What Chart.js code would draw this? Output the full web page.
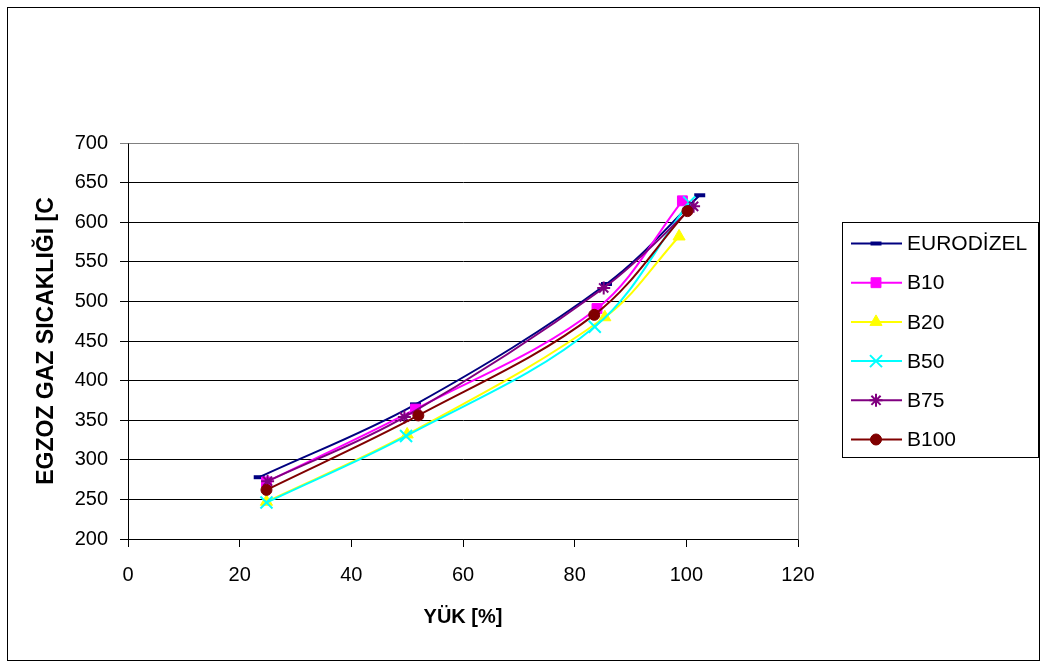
<!DOCTYPE html>
<html>
<head>
<meta charset="utf-8">
<script src="https://cdn.jsdelivr.net/npm/chart.js@4.4.1/dist/chart.umd.min.js"></script>
<style>
  body { margin:0; background:#fff; }
  #wrap { position:relative; width:1045px; height:666px; }
</style>
</head>
<body>
<div id="wrap"><canvas id="chart" width="1045" height="666"></canvas></div>
<script>
/* =========================
   DATA
========================= */
const seriesNames = ["EURODİZEL","B10","B20","B50","B75","B100"];

const eurodizelX = [23.5, 51.5, 85.7, 102.4];
const eurodizelY = [278, 370, 522, 634];
const b10X = [24.8, 51.5, 84.0, 99.3];
const b10Y = [272, 364, 491, 627];
const b20X = [24.8, 50.0, 85.4, 98.7];
const b20Y = [247, 332, 480, 582];
const b50X = [24.8, 49.8, 83.6, 100.5];
const b50Y = [246, 330, 468, 625];
const b75X = [25.0, 49.5, 85.2, 101.3];
const b75Y = [273, 354, 517, 620];
const b100X = [24.8, 52.0, 83.5, 100.2];
const b100Y = [262, 356, 483, 614];

const xTicks = [0, 20, 40, 60, 80, 100, 120];
const yTicks = [200, 250, 300, 350, 400, 450, 500, 550, 600, 650, 700];

const FONT = "'Liberation Sans', Arial, sans-serif";

/* =========================
   STYLES
========================= */
const styles = [
  { color:"#000080", pointStyle:"line",     radius:5.5, bw:4 },
  { color:"#FF00FF", pointStyle:"rect",     radius:7,   bw:1 },
  { color:"#FFFF00", pointStyle:"triangle", radius:7,   bw:1 },
  { color:"#00FFFF", pointStyle:"crossRot", radius:8.5, bw:2 },
  { color:"#800080", pointStyle:"star",     radius:6.5, bw:2 },
  { color:"#800000", pointStyle:"circle",   radius:5.5, bw:1 }
];

function toPoints(xs, ys){
  return xs.map((x,i)=>({ x:x, y:ys[i] }));
}

const allX = [eurodizelX, b10X, b20X, b50X, b75X, b100X];
const allY = [eurodizelY, b10Y, b20Y, b50Y, b75Y, b100Y];

const datasets = seriesNames.map((name, i)=>({
  label: name,
  data: toPoints(allX[i], allY[i]),
  showLine: true,
  tension: 0.35,
  borderColor: styles[i].color,
  backgroundColor: styles[i].color,
  borderWidth: 2,
  pointStyle: styles[i].pointStyle,
  pointRadius: styles[i].radius,
  pointBorderWidth: styles[i].bw,
  pointBackgroundColor: styles[i].color,
  pointBorderColor: styles[i].color,
  order: seriesNames.length - i
}));

/* =========================
   FRAME + LEGEND PLUGIN
========================= */
const framePlugin = {
  id: "frame",
  beforeDraw(chart){
    const ctx = chart.ctx;
    ctx.save();
    ctx.fillStyle = "#fff";
    ctx.fillRect(0, 0, chart.width, chart.height);
    ctx.strokeStyle = "#000";
    ctx.lineWidth = 1;
    ctx.strokeRect(7.5, 7.5, 1032, 653);
    ctx.restore();
  },
  beforeDatasetsDraw(chart){
    const a = chart.chartArea;
    const ctx = chart.ctx;
    ctx.save();
    ctx.strokeStyle = "#808080";
    ctx.lineWidth = 1;
    ctx.beginPath();
    ctx.moveTo(Math.round(a.left) + 0.5, Math.round(a.top) + 0.5);
    ctx.lineTo(Math.round(a.right) + 0.5, Math.round(a.top) + 0.5);
    ctx.lineTo(Math.round(a.right) + 0.5, Math.round(a.bottom) + 0.5);
    ctx.stroke();
    ctx.restore();
  },
  afterDraw(chart){
    const ctx = chart.ctx;
    ctx.save();
    ctx.strokeStyle = "#000";
    ctx.lineWidth = 1;
    ctx.strokeRect(842.5, 222.5, 196, 235);
    ctx.font = "21px " + FONT;
    ctx.textBaseline = "middle";
    ctx.fillStyle = "#000";
    datasets.forEach((ds, i)=>{
      const y = 243.5 + i * 39.2;
      ctx.strokeStyle = ds.borderColor;
      ctx.lineWidth = 2;
      ctx.beginPath();
      ctx.moveTo(851, y);
      ctx.lineTo(902, y);
      ctx.stroke();
      ctx.fillStyle = ds.borderColor;
      ctx.strokeStyle = ds.borderColor;
      ctx.lineWidth = ds.pointBorderWidth;
      Chart.helpers.drawPoint(ctx, {
        pointStyle: ds.pointStyle,
        radius: ds.pointRadius,
        rotation: 0,
        borderWidth: ds.pointBorderWidth
      }, 876, y);
      ctx.fillStyle = "#000";
      ctx.fillText(ds.label, 907, y + 1);
    });
    ctx.restore();
  }
};

/* =========================
   CHART
========================= */
new Chart(document.getElementById("chart"), {
  type: "scatter",
  data: { datasets },
  plugins: [framePlugin],
  options: {
    responsive: false,
    animation: false,
    events: [],
    layout: { padding: { left: 27, top: 143, right: 247, bottom: 30 } },
    plugins: {
      legend: { display: false },
      tooltip: { enabled: false }
    },
    scales: {
      x: {
        type: "linear",
        min: xTicks[0],
        max: xTicks[xTicks.length - 1],
        afterBuildTicks(scale){ scale.ticks = xTicks.map(v=>({ value:v })); },
        afterFit(scale){ scale.height = 97; },
        grid: { drawOnChartArea: false, drawTicks: true, tickLength: 8, color: "#000" },
        border: { color: "#000", width: 1 },
        ticks: { color: "#000", padding: 16, font: { family: FONT, size: 20 } },
        title: {
          display: true,
          text: "YÜK [%]",
          color: "#000",
          padding: { bottom: 7 },
          font: { family: FONT, size: 20, weight: "bold" }
        }
      },
      y: {
        type: "linear",
        min: yTicks[0],
        max: yTicks[yTicks.length - 1],
        afterBuildTicks(scale){ scale.ticks = yTicks.map(v=>({ value:v })); },
        afterFit(scale){ scale.width = 128 - 27; },
        grid: {
          drawTicks: true,
          tickLength: 8,
          color: ctx => (ctx.tick && ctx.tick.value === 700) ? "#808080" : "#000"
        },
        border: { color: "#000", width: 1 },
        ticks: { color: "#000", padding: 12, font: { family: FONT, size: 20 } },
        title: {
          display: true,
          text: "EGZOZ GAZ SICAKLIĞI [C",
          color: "#000",
          padding: { top: 6 },
          font: { family: FONT, size: 23, weight: "bold" }
        }
      }
    }
  }
});
</script>
</body>
</html>
